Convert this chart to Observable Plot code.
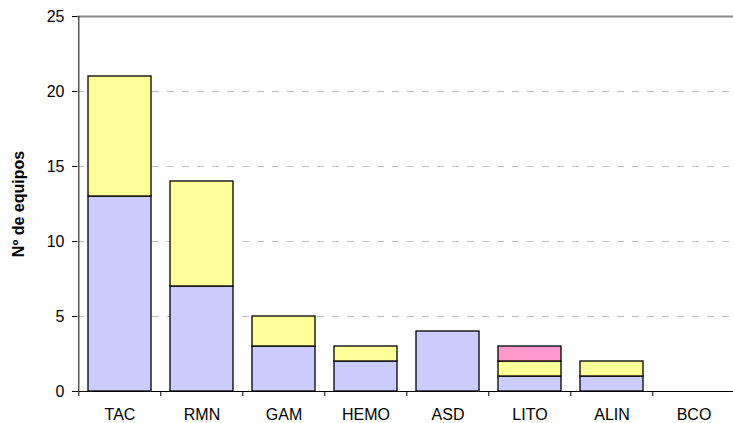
<!DOCTYPE html>
<html>
<head>
<meta charset="utf-8">
<script src="https://cdn.jsdelivr.net/npm/d3@7"></script>
<script src="https://cdn.jsdelivr.net/npm/@observablehq/plot@0.6"></script>
<style>
  html, body { margin: 0; padding: 0; background: #fff; }
  svg { display: block; }
</style>
</head>
<body>
<div id="chart"></div>
<script>
const categories = ["TAC", "RMN", "GAM", "HEMO", "ASD", "LITO", "ALIN", "BCO"];
const serie1 = [13, 7, 3, 2, 4, 1, 1, 0];
const serie2 = [8, 7, 2, 1, 0, 1, 1, 0];
const serie3 = [0, 0, 0, 0, 0, 1, 0, 0];
const seriesNames = ["s1", "s2", "s3"];
const seriesColors = ["#CCCCFF", "#FFFF99", "#FF99CC"];
const yTicks = [0, 5, 10, 15, 20, 25];
const yLabel = "Nº de equipos";

const seriesValues = [serie1, serie2, serie3];
const data = [];
seriesNames.forEach((s, si) => {
  categories.forEach((c, ci) => {
    data.push({cat: c, series: s, value: seriesValues[si][ci]});
  });
});

const xRange = [77, 736];
const step = (xRange[1] - xRange[0]) / categories.length;

const plot = Plot.plot({
  width: 733,
  height: 423,
  marginLeft: 77,
  marginRight: 0,
  marginTop: 16,
  marginBottom: 32,
  style: {fontFamily: "'Liberation Sans', Arial, sans-serif", fontSize: "16px", background: "#fff", color: "black"},
  x: {domain: categories, range: xRange, paddingInner: 0.23, paddingOuter: 0.115},
  y: {domain: [0, 25]},
  color: {domain: seriesNames, range: seriesColors},
  marks: [
    Plot.ruleY([5, 10, 15, 20], {stroke: "#c0c0c0", strokeDasharray: "7,8"}),
    Plot.ruleY([25], {stroke: "#8c8c8c", strokeWidth: 2}),
    Plot.barY(data, {x: "cat", y: "value", fill: "series", stroke: "black", strokeWidth: 1.3, filter: d => d.value > 0}),
    Plot.ruleY([0], {stroke: "black", strokeWidth: 1}),
    Plot.ruleX([categories[0]], {dx: -step / 2, stroke: "black"}),
    Plot.axisY({ticks: yTicks, tickSize: 5, tickPadding: 8, fontSize: 16, label: null, stroke: "black"}),
    Plot.axisX({tickSize: 5, tickFormat: () => "", dx: -step / 2, label: null, stroke: "black"}),
    Plot.axisX({tickSize: 0, tickPadding: 17, fontSize: 16, label: null}),
    Plot.text([yLabel], {frameAnchor: "left", textAnchor: "middle", dx: -59, rotate: -90, fontWeight: "bold", fontSize: 16, fill: "black"})
  ]
});
document.getElementById("chart").appendChild(plot);
</script>
</body>
</html>
